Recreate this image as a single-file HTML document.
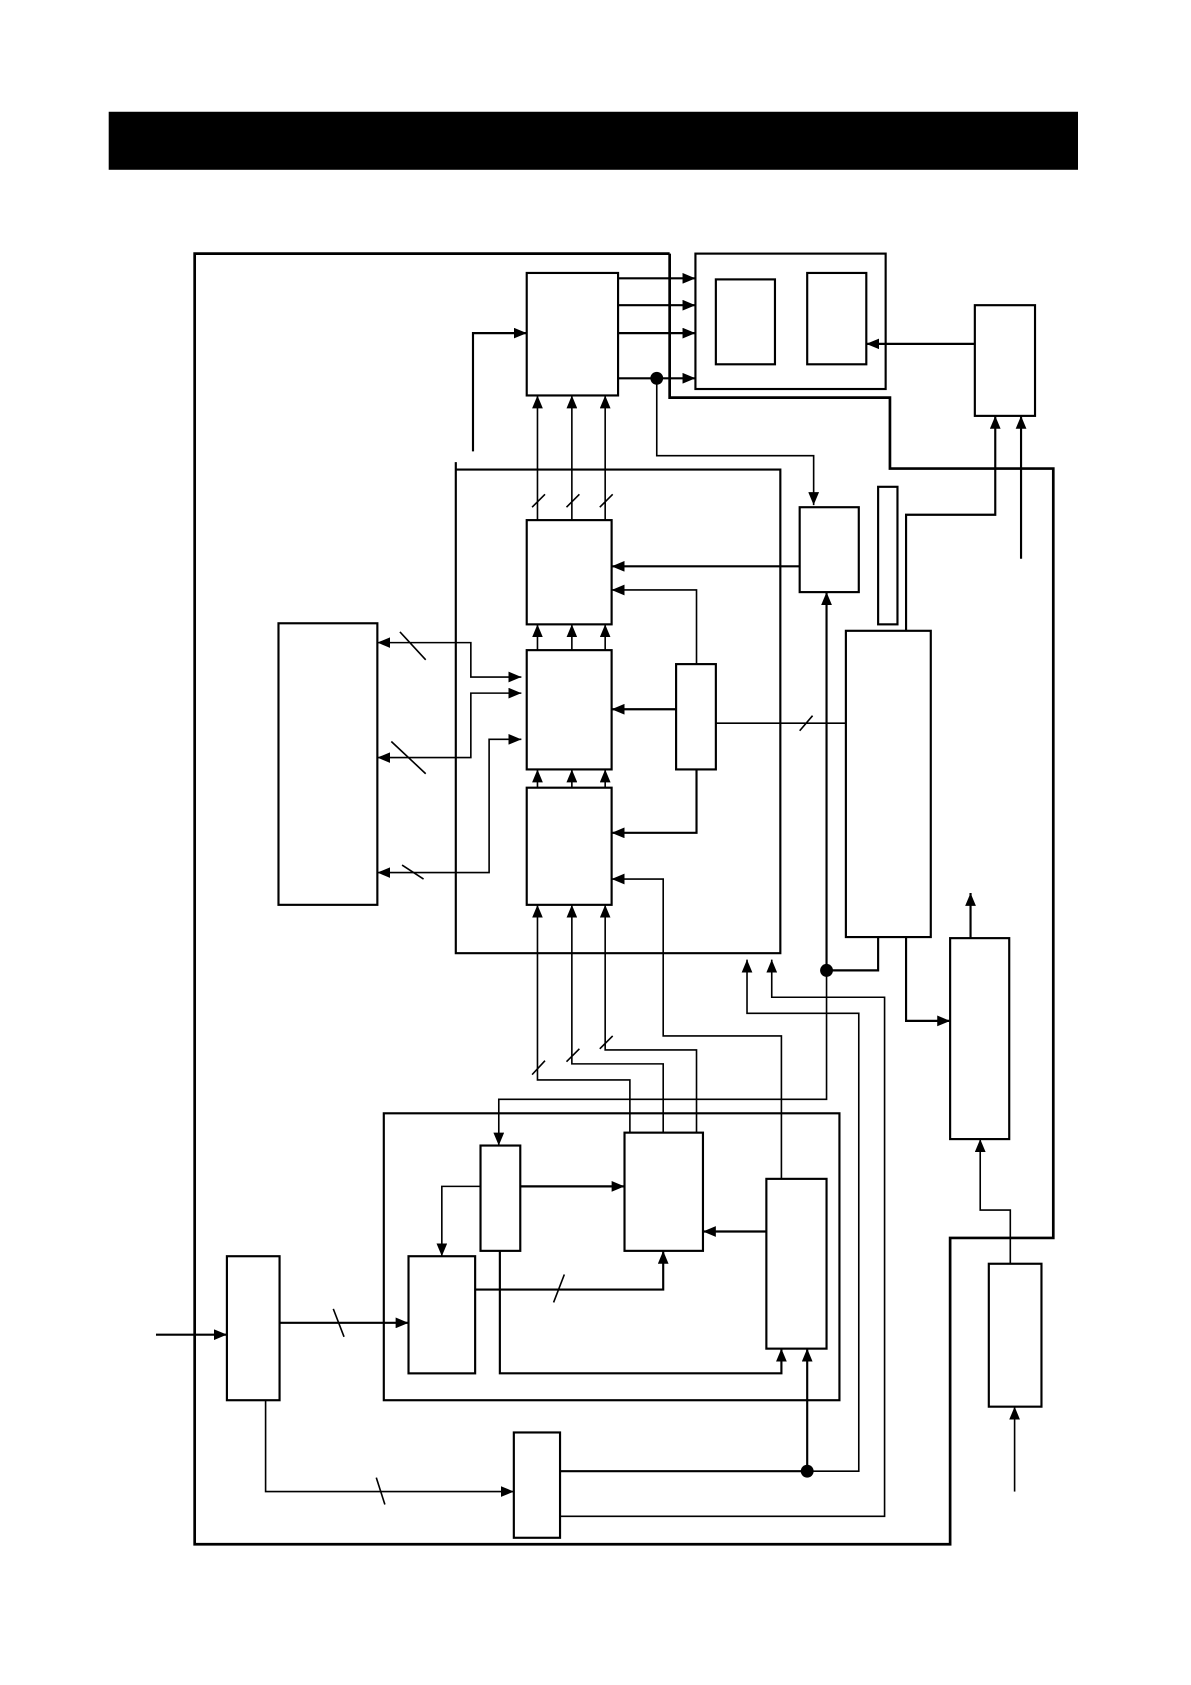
<!DOCTYPE html>
<html><head><meta charset="utf-8"><style>html,body{margin:0;padding:0;background:#fff}svg{display:block}</style></head>
<body>
<svg width="1191" height="1685" viewBox="0 0 1108 1568" xmlns="http://www.w3.org/2000/svg">
<defs>
<marker id="a" viewBox="0 0 12 10" refX="12" refY="5" markerWidth="12" markerHeight="10" markerUnits="userSpaceOnUse" orient="auto-start-reverse"><path d="M0,0L12,5L0,10z" fill="#000"/></marker>
</defs>
<rect x="101" y="104" width="902" height="54" fill="#000"/>
<g fill="none" stroke="#000" stroke-width="2">
<path d="M623,236H181V1437H884V1152H980V436H828V370H623V236" stroke-width="2.5"/>
<rect x="490" y="254" width="85" height="114"/>
<path d="M575,259H647" marker-end="url(#a)"/>
<path d="M575,284H647" marker-end="url(#a)"/>
<path d="M575,310H647" marker-end="url(#a)"/>
<path d="M575,352H647" marker-end="url(#a)"/>
<path d="M440,420V310H490" marker-end="url(#a)"/>
<path d="M611,352V424H757V470" stroke-width="1.5" marker-end="url(#a)"/>
<rect x="647" y="236" width="177" height="126"/>
<rect x="666" y="260" width="55" height="79"/>
<rect x="751" y="254" width="55" height="85"/>
<rect x="907" y="284" width="56" height="103"/>
<path d="M907,320H806" marker-end="url(#a)"/>
<path d="M843,587V479H926V387" marker-end="url(#a)"/>
<path d="M950,520V387" marker-end="url(#a)"/>
<path d="M424,430V887H726V437H424"/>
<rect x="490" y="484" width="79" height="97"/>
<rect x="490" y="605" width="79" height="111"/>
<rect x="490" y="733" width="79" height="109"/>
<g stroke-width="1.5">
<path d="M500,484V368" marker-end="url(#a)"/>
<path d="M532,484V368" marker-end="url(#a)"/>
<path d="M563,484V368" marker-end="url(#a)"/>
<path d="M500,605V581" marker-end="url(#a)"/>
<path d="M532,605V581" marker-end="url(#a)"/>
<path d="M563,605V581" marker-end="url(#a)"/>
<path d="M500,733V716" marker-end="url(#a)"/>
<path d="M532,733V716" marker-end="url(#a)"/>
<path d="M563,733V716" marker-end="url(#a)"/>
<path d="M495,472L507,460M527,472L539,460M558,472L570,460M495,1000L507,987M527,988L539,976M558,976L570,964"/>
<path d="M586,1054V1005H500V842" marker-end="url(#a)"/>
<path d="M617,1054V990H532V842" marker-end="url(#a)"/>
<path d="M648,1054V977H563V842" marker-end="url(#a)"/>
</g>
<rect x="744" y="472" width="55" height="79"/>
<path d="M744,527H569" marker-end="url(#a)"/>
<path d="M769,903V551" marker-end="url(#a)"/>
<path d="M769,903V1023H464V1066" stroke-width="1.5" marker-end="url(#a)"/>
<rect x="629" y="618" width="37" height="98"/>
<path d="M629,660H569" marker-end="url(#a)"/>
<path d="M648,618V549H569" stroke-width="1.5" marker-end="url(#a)"/>
<path d="M648,716V775H569" marker-end="url(#a)"/>
<path d="M666,673H787M744,680L756,666" stroke-width="1.5"/>
<rect x="817" y="453" width="18" height="128"/>
<rect x="787" y="587" width="79" height="285"/>
<path d="M817,872V903H769"/>
<path d="M843,872V950H884" marker-end="url(#a)"/>
<rect x="884" y="873" width="55" height="187"/>
<path d="M903,873V831" marker-end="url(#a)"/>
<rect x="920" y="1176" width="49" height="133"/>
<path d="M940,1176V1126H912V1060" stroke-width="1.5" marker-end="url(#a)"/>
<path d="M944,1388V1309" stroke-width="1.5" marker-end="url(#a)"/>
<rect x="259" y="580" width="92" height="262"/>
<path d="M485,630H438V598H351" stroke-width="1.5" marker-start="url(#a)" marker-end="url(#a)"/>
<path d="M485,645H438V705H351" stroke-width="1.5" marker-start="url(#a)" marker-end="url(#a)"/>
<path d="M485,688H455V812H351" stroke-width="1.5" marker-start="url(#a)" marker-end="url(#a)"/>
<path d="M372,588L396,614M364,690L396,720M374,805L394,818" stroke-width="1.5"/>
<rect x="357" y="1036" width="424" height="267"/>
<rect x="581" y="1054" width="73" height="110"/>
<rect x="447" y="1066" width="37" height="98"/>
<rect x="380" y="1169" width="62" height="109"/>
<rect x="713" y="1097" width="56" height="158"/>
<path d="M484,1104H581" marker-end="url(#a)"/>
<path d="M447,1104H411V1169" stroke-width="1.5" marker-end="url(#a)"/>
<path d="M465,1164V1278H727V1255" marker-end="url(#a)"/>
<path d="M442,1200H617V1164" marker-end="url(#a)"/>
<path d="M515,1212L525,1186" stroke-width="1.5"/>
<path d="M713,1146H654" marker-end="url(#a)"/>
<path d="M727,1097V964H617V818H569" stroke-width="1.5" marker-end="url(#a)"/>
<path d="M751,1369H799V943H695V893" stroke-width="1.5" marker-end="url(#a)"/>
<path d="M521,1411H823V928H718V893" stroke-width="1.5" marker-end="url(#a)"/>
<rect x="211" y="1169" width="49" height="134"/>
<path d="M145,1242H211" marker-end="url(#a)"/>
<path d="M260,1231H380" marker-end="url(#a)"/>
<path d="M310,1218L320,1244" stroke-width="1.5"/>
<path d="M247,1303V1388H478" stroke-width="1.5" marker-end="url(#a)"/>
<path d="M350,1375L358,1400" stroke-width="1.5"/>
<rect x="478" y="1333" width="43" height="98"/>
<path d="M521,1369H751"/>
<path d="M751,1369V1255" marker-end="url(#a)"/>
</g>
<g fill="#000">
<circle cx="611" cy="352" r="6"/>
<circle cx="769" cy="903" r="6"/>
<circle cx="751" cy="1369" r="6"/>
</g>
</svg>
</body></html>
